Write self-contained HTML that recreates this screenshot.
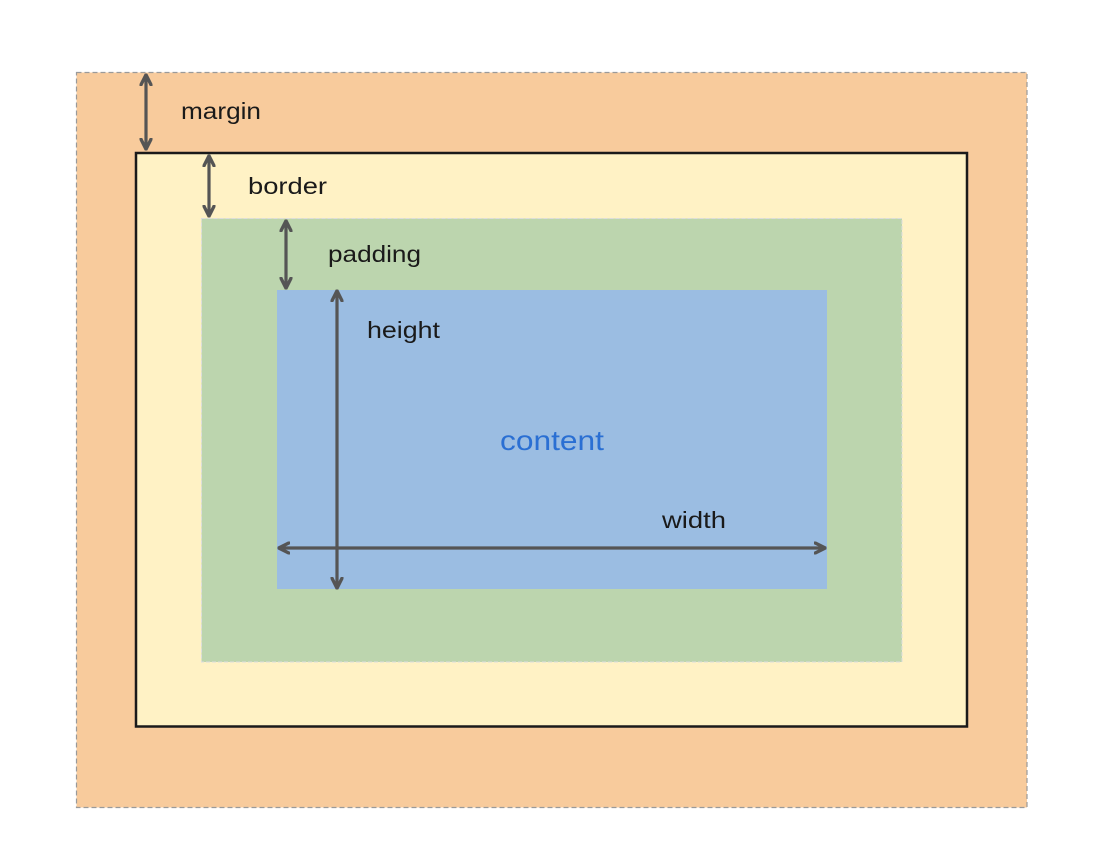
<!DOCTYPE html>
<html><head><meta charset="utf-8"><style>
html,body{margin:0;padding:0;background:#fff;width:1102px;height:853px;overflow:hidden}
text{font-family:"Liberation Sans",sans-serif}
</style></head><body>
<svg width="1102" height="853" viewBox="0 0 1102 853" xmlns="http://www.w3.org/2000/svg">
<defs>
<marker id="ah" viewBox="0 0 10 10" refX="8" refY="5" markerWidth="4" markerHeight="4" orient="auto-start-reverse" markerUnits="strokeWidth">
<path d="M1,1 L9,5 L1,9" fill="none" stroke="#555" stroke-width="2.6" stroke-linejoin="round" stroke-linecap="round"/>
</marker>
</defs>
<rect x="76.5" y="72.5" width="950.5" height="735" fill="#f8cb9c" stroke="#9a9a9a" stroke-width="1.2" stroke-dasharray="5,3"/>
<rect x="136" y="153" width="831" height="573.5" fill="#fff2c5" stroke="#1a1a1a" stroke-width="2.5"/>
<rect x="201.5" y="218.5" width="700.5" height="443.5" fill="#bcd5ae" stroke="#ddd" stroke-width="1" stroke-dasharray="4,2"/>
<rect x="277" y="290" width="550" height="299" fill="#9bbde2"/>
<g stroke="#555" stroke-width="3.2" fill="none" marker-start="url(#ah)" marker-end="url(#ah)">
<line x1="146" y1="76" x2="146" y2="148"/>
<line x1="209" y1="157" x2="209" y2="215"/>
<line x1="286" y1="222" x2="286" y2="287"/>
<line x1="337" y1="292" x2="337" y2="587"/>
<line x1="280" y1="548" x2="824" y2="548"/>
</g>
<g font-size="23" fill="#1a1a1a">
<text x="181" y="119" textLength="80" lengthAdjust="spacingAndGlyphs">margin</text>
<text x="248" y="194" textLength="79" lengthAdjust="spacingAndGlyphs">border</text>
<text x="328" y="262" textLength="93" lengthAdjust="spacingAndGlyphs">padding</text>
<text x="367" y="338" textLength="73" lengthAdjust="spacingAndGlyphs">height</text>
<text x="662" y="528" textLength="64" lengthAdjust="spacingAndGlyphs">width</text>
</g>
<text x="500" y="450" font-size="28" fill="#2a6fd3" textLength="104" lengthAdjust="spacingAndGlyphs">content</text>
</svg>
</body></html>
